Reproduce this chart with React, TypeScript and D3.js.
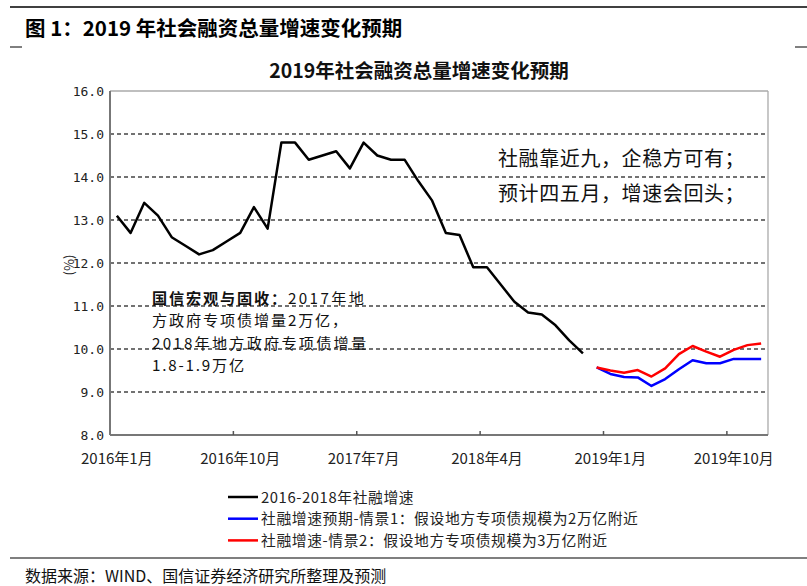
import React from "react";
import * as d3 from "d3";

const years = [2016, 2017, 2018, 2019];
const months = [1, 2, 3, 4, 5, 6, 7, 8, 9, 10, 11, 12];
const categories: string[] = [];
years.forEach((y) => months.forEach((m) => categories.push(`${y}年${m}月`)));

const tickLabels = ["2016年1月", "2016年10月", "2017年7月", "2018年4月", "2019年1月", "2019年10月"];
const yTicks = [8, 9, 10, 11, 12, 13, 14, 15, 16];

const histStart = "2016年1月";
const histValues = [
  13.1, 12.7, 13.4, 13.1, 12.6, 12.4, 12.2, 12.3, 12.5, 12.7, 13.3, 12.8,
  14.8, 14.8, 14.4, 14.5, 14.6, 14.2, 14.8, 14.5, 14.4, 14.4, 13.9, 13.45,
  12.7, 12.65, 11.9, 11.9, 11.5, 11.1, 10.85, 10.8, 10.55, 10.2, 9.9,
];
const forecastStart = "2018年12月";
const scenario1Values = [9.57, 9.42, 9.35, 9.34, 9.14, 9.3, 9.53, 9.74, 9.67, 9.67, 9.77, 9.77, 9.77];
const scenario2Values = [9.57, 9.5, 9.45, 9.51, 9.36, 9.55, 9.88, 10.07, 9.94, 9.82, 9.98, 10.09, 10.13];

const seriesNames = [
  "2016-2018年社融增速",
  "社融增速预期-情景1：假设地方专项债规模为2万亿附近",
  "社融增速-情景2：假设地方专项债规模为3万亿附近",
];
const seriesColors = ["#000000", "#0000ff", "#ff0000"];

const W = 807;
const H = 586;
const plot = { left: 110, right: 768, top: 91, bottom: 435 };
const CJK = "'Noto Sans CJK SC', 'Noto Sans', sans-serif";

export default function App() {
  React.useEffect(() => {
    document.body.style.margin = "0";
  }, []);

  const x = d3.scaleBand<string>().domain(categories).range([plot.left, plot.right]).paddingInner(0).paddingOuter(0);
  const y = d3.scaleLinear().domain([8, 16]).range([plot.bottom, plot.top]);
  const cx = (c: string) => (x(c) as number) + x.bandwidth() / 2;

  const toPoints = (start: string, vals: number[]) => {
    const s = categories.indexOf(start);
    return vals.map((v, i) => [cx(categories[s + i]), y(v)] as [number, number]);
  };
  const line = d3.line<[number, number]>().x((d) => d[0]).y((d) => d[1]);

  const series = [
    toPoints(histStart, histValues),
    toPoints(forecastStart, scenario1Values),
    toPoints(forecastStart, scenario2Values),
  ];

  const noteX = 152;
  const noteY = [304, 326.3, 348.6, 370.9];

  return (
    <div style={{ position: "absolute", left: 0, top: 0, width: W, height: H, background: "#fff" }}>
      <svg width={W} height={H} style={{ display: "block" }}>
        <rect x={0} y={0} width={W} height={H} fill="#fff" />
        {/* page header */}
        <line x1={10} x2={W} y1={7} y2={7} stroke="#000" strokeWidth={1.5} />
        <text x={25} y={36} fontFamily={CJK} fontSize={20.5} fontWeight="bold" fill="#000">
          图 1：2019 年社会融资总量增速变化预期
        </text>
        <line x1={10} x2={22} y1={47} y2={47} stroke="#000" strokeWidth={1} />
        <line x1={795} x2={W} y1={47} y2={47} stroke="#000" strokeWidth={1} />

        {/* chart title */}
        <text x={419} y={78} textAnchor="middle" fontFamily={CJK} fontSize={19.5} fontWeight="bold" fill="#111">
          2019年社会融资总量增速变化预期
        </text>

        {/* grid */}
        {yTicks.filter((t) => t > 8 && t < 16).map((t) => (
          <line key={t} x1={plot.left} x2={plot.right} y1={y(t)} y2={y(t)} stroke="#444" strokeWidth={1.3} strokeDasharray="4 3" />
        ))}
        {/* frame */}
        <line x1={plot.left} x2={plot.right} y1={plot.top} y2={plot.top} stroke="#aaa" strokeWidth={1.3} />
        <line x1={plot.right} x2={plot.right} y1={plot.top} y2={plot.bottom} stroke="#aaa" strokeWidth={1.3} />
        <line x1={plot.left} x2={plot.left} y1={plot.top} y2={plot.bottom} stroke="#777" strokeWidth={2} />
        <line x1={plot.left} x2={plot.right} y1={plot.bottom} y2={plot.bottom} stroke="#777" strokeWidth={2} />
        {tickLabels.slice(1).map((c) => (
          <line key={c} x1={x(c) as number} x2={x(c) as number} y1={plot.bottom} y2={plot.bottom - 4} stroke="#555" strokeWidth={1.5} />
        ))}

        {/* y labels */}
        {yTicks.map((t) => (
          <text key={t} x={104} y={y(t) + 5} textAnchor="end" fontFamily="'DejaVu Sans Mono', monospace" fontSize={13} fill="#222">
            {t.toFixed(1)}
          </text>
        ))}
        <text transform="translate(74,265) rotate(-90)" textAnchor="middle" fontFamily={CJK} fontSize={13} fill="#222">
          (%)
        </text>
        {/* x labels */}
        {tickLabels.map((c) => (
          <text key={c} x={cx(c)} y={464} textAnchor="middle" fontFamily={CJK} fontSize={15} fill="#222">
            {c}
          </text>
        ))}

        {/* series */}
        {series.map((pts, i) => (
          <path key={i} d={line(pts) || ""} fill="none" stroke={seriesColors[i]} strokeWidth={2.5} strokeLinejoin="round" />
        ))}

        {/* annotations */}
        <text x={498} y={166} fontFamily={CJK} fontSize={20} letterSpacing={0.6} fill="#111">社融靠近九，企稳方可有；</text>
        <text x={498} y={201} fontFamily={CJK} fontSize={20} letterSpacing={0.6} fill="#111">预计四五月，增速会回头；</text>

        <g fontFamily={CJK} fontSize={15.2} fill="#111" letterSpacing={1.8}>
          <text x={noteX} y={noteY[0]}>
            <tspan fontWeight="bold">国信宏观与固收：</tspan>
            <tspan letterSpacing={2.4}>2017年地</tspan>
          </text>
          <text x={noteX} y={noteY[1]}>方政府专项债增量2万亿，</text>
          <text x={noteX} y={noteY[2]} letterSpacing={2.2}>2018年地方政府专项债增量</text>
          <text x={noteX} y={noteY[3]}>1.8-1.9万亿</text>
        </g>

        {/* legend */}
        {seriesNames.map((n, i) => (
          <g key={n}>
            <line x1={228} x2={258} y1={497 + i * 21.7} y2={497 + i * 21.7} stroke={seriesColors[i]} strokeWidth={2.5} />
            <text x={261} y={497 + i * 21.7 + 5.5} fontFamily={CJK} fontSize={14.8} letterSpacing={0.6} fill="#222">{n}</text>
          </g>
        ))}

        {/* footer */}
        <line x1={10} x2={W} y1={558} y2={558} stroke="#000" strokeWidth={1.2} />
        <text x={25} y={582} fontFamily={CJK} fontSize={16} fill="#111">数据来源：WIND、国信证券经济研究所整理及预测</text>
      </svg>
    </div>
  );
}
